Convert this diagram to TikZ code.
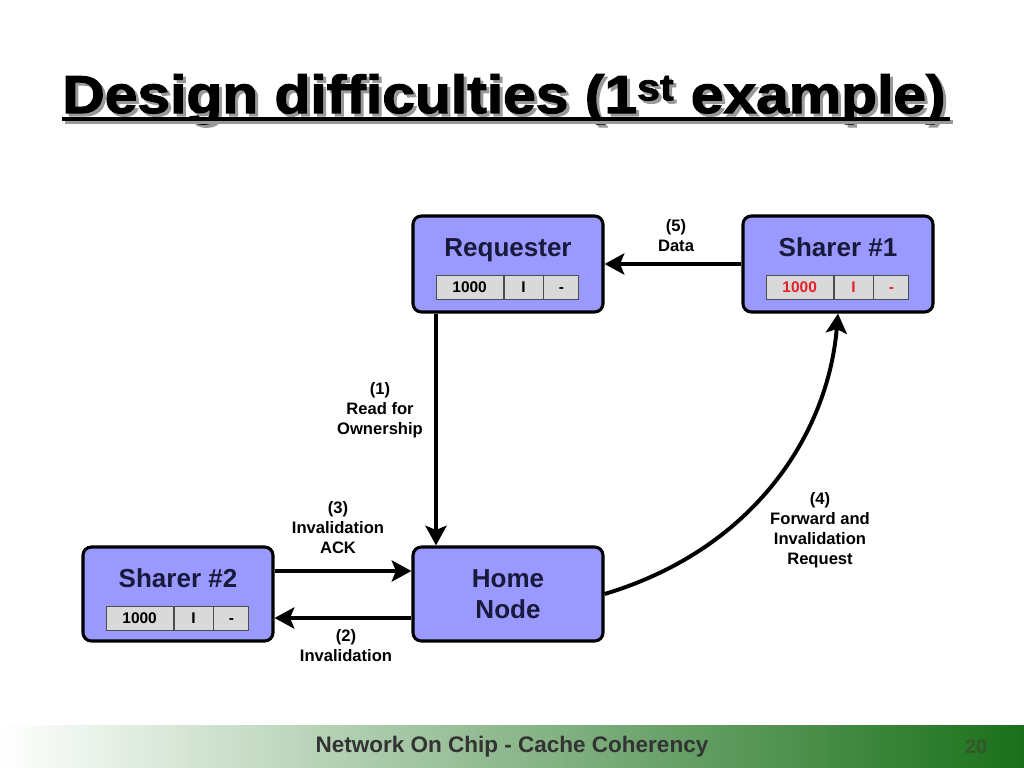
\documentclass[tikz,border=0pt]{standalone}
\usepackage{fontspec}
\setmainfont{Liberation Sans}
\newfontfamily\heavyfont[FakeBold=2]{Liberation Sans Bold}
\usetikzlibrary{positioning,arrows.meta}

\definecolor{boxblue}{RGB}{153,153,255}
\definecolor{boxtext}{RGB}{25,25,60}
\definecolor{cellgray}{RGB}{217,217,217}
\definecolor{tagred}{RGB}{232,32,42}
\definecolor{footgreen}{RGB}{26,112,26}
\definecolor{footmid}{RGB}{168,194,118}
\definecolor{pagenum}{RGB}{55,85,45}

\newcommand\slidetitle{\scalebox{1.1}[1]{Design difficulties (1\textsuperscript{st} example)}}

\begin{document}
\begin{tikzpicture}[x=0.025cm,y=-0.025cm,
  nodebox/.style={draw=black,line width=2.2pt,rounded corners=6pt,fill=boxblue,minimum width=4.75cm,minimum height=2.4cm,inner sep=0pt},
  boxname/.style={text=boxtext,font=\fontsize{18.5}{22}\selectfont\bfseries,align=center},
  cell/.style={draw=black!70,line width=0.6pt,fill=cellgray,minimum height=0.6cm,inner sep=0pt,text height=8pt,text depth=0pt,font=\fontsize{11}{13}\selectfont\bfseries},
  msg/.style={font=\fontsize{11.8}{14.2}\selectfont\bfseries,align=center},
  link/.style={line width=2.8pt,-{Stealth[length=14pt,width=15pt,inset=3pt]}}]

\useasboundingbox (0,0) rectangle (1024,768);

\shade[left color=white,middle color=footmid,right color=footgreen] (0,725) rectangle (1024,768);
\node[text=black!80,font=\fontsize{16}{18}\selectfont\bfseries] (foot) at (512,747) {Network On Chip - Cache Coherency};
\node[text=pagenum,font=\fontsize{14}{16}\selectfont\bfseries] (page) at (976,747) {20};

\node[anchor=base west,inner sep=0pt,font=\heavyfont\fontsize{38}{44}\selectfont] (title) at (62,113)
  {\rlap{\hspace{0.075cm}\raisebox{-0.075cm}{\color{black!40}\slidetitle}}\slidetitle};
\draw[black!40,line width=2.5pt] (65,122) -- (953,122);
\draw[line width=2.5pt] (62,119) -- (950,119);

\node[nodebox] (req) at (508,264) {};
\node[boxname,anchor=base] (reqname) at ([yshift=0.2cm]req.center) {Requester};
\node[cell,minimum width=0.975cm] (reqstate) at ([xshift=0.3875cm,yshift=-0.575cm]req.center) {I};
\node[cell,minimum width=1.675cm,left=0pt of reqstate] (reqaddr) {1000};
\node[cell,minimum width=0.875cm,right=0pt of reqstate] (reqdash) {-};

\node[nodebox] (shone) at (838,264) {};
\node[boxname,anchor=base] (shonename) at ([yshift=0.2cm]shone.center) {Sharer \#1};
\node[cell,minimum width=0.975cm,text=tagred] (shonestate) at ([xshift=0.3875cm,yshift=-0.575cm]shone.center) {I};
\node[cell,minimum width=1.675cm,text=tagred,left=0pt of shonestate] (shoneaddr) {1000};
\node[cell,minimum width=0.875cm,text=tagred,right=0pt of shonestate] (shonedash) {-};

\node[nodebox,minimum height=2.35cm] (shtwo) at (178,594) {};
\node[boxname,anchor=base] (shtwoname) at ([yshift=0.175cm]shtwo.center) {Sharer \#2};
\node[cell,minimum width=0.975cm] (shtwostate) at ([xshift=0.3875cm,yshift=-0.6cm]shtwo.center) {I};
\node[cell,minimum width=1.675cm,left=0pt of shtwostate] (shtwoaddr) {1000};
\node[cell,minimum width=0.875cm,right=0pt of shtwostate] (shtwodash) {-};

\node[nodebox,minimum height=2.35cm,boxname] (home) at (508,594) {Home\\Node};

\draw[link] (shone) -- (req);
\draw[link] ([xshift=-1.8cm]req.south) -- ([xshift=-1.8cm]home.north);
\draw[link] ([yshift=0.575cm]shtwo.east) -- ([yshift=0.575cm]home.west);
\draw[link] ([yshift=-0.6cm]home.west) -- ([yshift=-0.6cm]shtwo.east);
\draw[link] (home.east) .. controls +(150,-45) and +(-10,120) .. (shone.south);

\node[msg] (msgfive) at (676,236) {(5)\\Data};
\node[msg] (msgone) at (380,410) {(1)\\Read for\\Ownership};
\node[msg] (msgthree) at (338,528) {(3)\\Invalidation\\ACK};
\node[msg] (msgtwo) at (346,646) {(2)\\Invalidation};
\node[msg] (msgfour) at (820,530) {(4)\\Forward and\\Invalidation\\Request};

\end{tikzpicture}
\end{document}
